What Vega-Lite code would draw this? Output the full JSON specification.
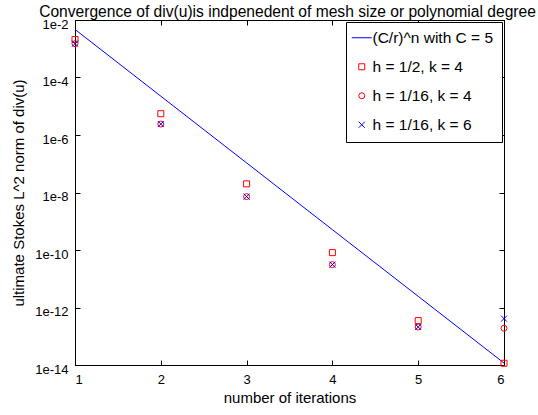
{
  "$schema": "https://vega.github.io/schema/vega-lite/v6.json",
  "autosize": "none",
  "width": 429,
  "height": 345,
  "padding": {"left": 75, "top": 20, "right": 34, "bottom": 50},
  "background": "white",
  "title": {"text": "Convergence of div(u)is indpenedent of mesh size or polynomial degree", "font": "Liberation Sans", "fontSize": 15.6, "fontWeight": "normal", "color": "black", "offset": -2.5, "dx": -2, "anchor": "middle"},
  "config": {
    "view": {"stroke": "black", "strokeWidth": 1},
    "font": "Liberation Sans",
    "axis": {"grid": false, "domainColor": "black", "tickColor": "black", "labelColor": "black", "titleColor": "black", "labelFont": "Liberation Sans", "titleFont": "Liberation Sans", "labelFontSize": 13, "titleFontSize": 15, "titleFontWeight": "normal", "tickSize": -5, "domainWidth": 1, "tickWidth": 1}
  },
  "datasets": {
    "line": [
      {"n": 1, "value": 4.7e-3, "series": "(C/r)^n with C = 5"},
      {"n": 2, "value": 2.24e-5, "series": "(C/r)^n with C = 5"},
      {"n": 3, "value": 1.07e-7, "series": "(C/r)^n with C = 5"},
      {"n": 4, "value": 5.1e-10, "series": "(C/r)^n with C = 5"},
      {"n": 5, "value": 2.45e-12, "series": "(C/r)^n with C = 5"},
      {"n": 6, "value": 1.17e-14, "series": "(C/r)^n with C = 5"}
    ],
    "pts": [
      {"n": 1, "value": 2.1e-3, "series": "h = 1/2, k = 4"},
      {"n": 2, "value": 5.5e-6, "series": "h = 1/2, k = 4"},
      {"n": 3, "value": 2.0e-8, "series": "h = 1/2, k = 4"},
      {"n": 4, "value": 8.1e-11, "series": "h = 1/2, k = 4"},
      {"n": 5, "value": 3.5e-13, "series": "h = 1/2, k = 4"},
      {"n": 6, "value": 1.15e-14, "series": "h = 1/2, k = 4"},
      {"n": 1, "value": 1.5e-3, "series": "h = 1/16, k = 4"},
      {"n": 2, "value": 2.4e-6, "series": "h = 1/16, k = 4"},
      {"n": 3, "value": 7.2e-9, "series": "h = 1/16, k = 4"},
      {"n": 4, "value": 3.1e-11, "series": "h = 1/16, k = 4"},
      {"n": 5, "value": 2.1e-13, "series": "h = 1/16, k = 4"},
      {"n": 6, "value": 1.9e-13, "series": "h = 1/16, k = 4"},
      {"n": 1, "value": 1.5e-3, "series": "h = 1/16, k = 6"},
      {"n": 2, "value": 2.4e-6, "series": "h = 1/16, k = 6"},
      {"n": 3, "value": 7.2e-9, "series": "h = 1/16, k = 6"},
      {"n": 4, "value": 3.1e-11, "series": "h = 1/16, k = 6"},
      {"n": 5, "value": 2.1e-13, "series": "h = 1/16, k = 6"},
      {"n": 6, "value": 4.1e-13, "series": "h = 1/16, k = 6"}
    ]
  },
  "layer": [
    {
      "data": {"name": "line"},
      "mark": {"type": "line", "strokeWidth": 1, "clip": true},
      "encoding": {
        "x": {"field": "n", "type": "quantitative", "scale": {"domain": [1, 6], "nice": false, "zero": false},
              "axis": {"orient": "bottom", "values": [1, 2, 3, 4, 5, 6], "format": "d", "title": "number of iterations", "labelPadding": 13, "titlePadding": 4}},
        "y": {"field": "value", "type": "quantitative", "scale": {"type": "log", "domain": [1e-14, 1e-2], "nice": false},
              "axis": {"orient": "left", "values": [1e-14, 1e-12, 1e-10, 1e-8, 1e-6, 1e-4, 1e-2], "labelExpr": "'1e' + round(log(datum.value)/LN10)", "title": "ultimate Stokes L^2 norm of div(u)", "labelPadding": 12, "labelOffset": 4, "titlePadding": 8}},
        "color": {"field": "series", "type": "nominal",
                  "scale": {"domain": ["(C/r)^n with C = 5", "h = 1/2, k = 4", "h = 1/16, k = 4", "h = 1/16, k = 6"], "range": ["#0000ff", "#ff0000", "#ff0000", "#0000ff"]},
                  "legend": {"title": null, "orient": "top-right", "offset": 2, "padding": 8, "fillColor": "white", "strokeColor": "black", "labelFontSize": 15.5, "labelFont": "Liberation Sans", "labelColor": "black", "rowPadding": 12, "labelOffset": 3, "symbolSize": 36, "symbolStrokeWidth": 1, "labelLimit": 300,
                             "encode": {"symbols": {"update": {"size": {"signal": "datum.label === '(C/r)^n with C = 5' ? 400 : 36"}}}}}}
      }
    },
    {
      "data": {"name": "pts"},
      "mark": {"type": "point", "filled": false, "strokeWidth": 1, "size": 36, "opacity": 1},
      "encoding": {
        "x": {"field": "n", "type": "quantitative", "axis": {"orient": "top", "values": [1, 2, 3, 4, 5, 6], "labels": false, "title": null}},
        "y": {"field": "value", "type": "quantitative", "axis": {"orient": "right", "values": [1e-14, 1e-12, 1e-10, 1e-8, 1e-6, 1e-4, 1e-2], "labels": false, "title": null}},
        "color": {"field": "series", "type": "nominal"},
        "shape": {"field": "series", "type": "nominal",
                  "scale": {"domain": ["(C/r)^n with C = 5", "h = 1/2, k = 4", "h = 1/16, k = 4", "h = 1/16, k = 6"], "range": ["stroke", "square", "circle", "M-1,-1L1,1M-1,1L1,-1"]}}
      }
    }
  ],
  "resolve": {"axis": {"x": "independent", "y": "independent"}}
}
